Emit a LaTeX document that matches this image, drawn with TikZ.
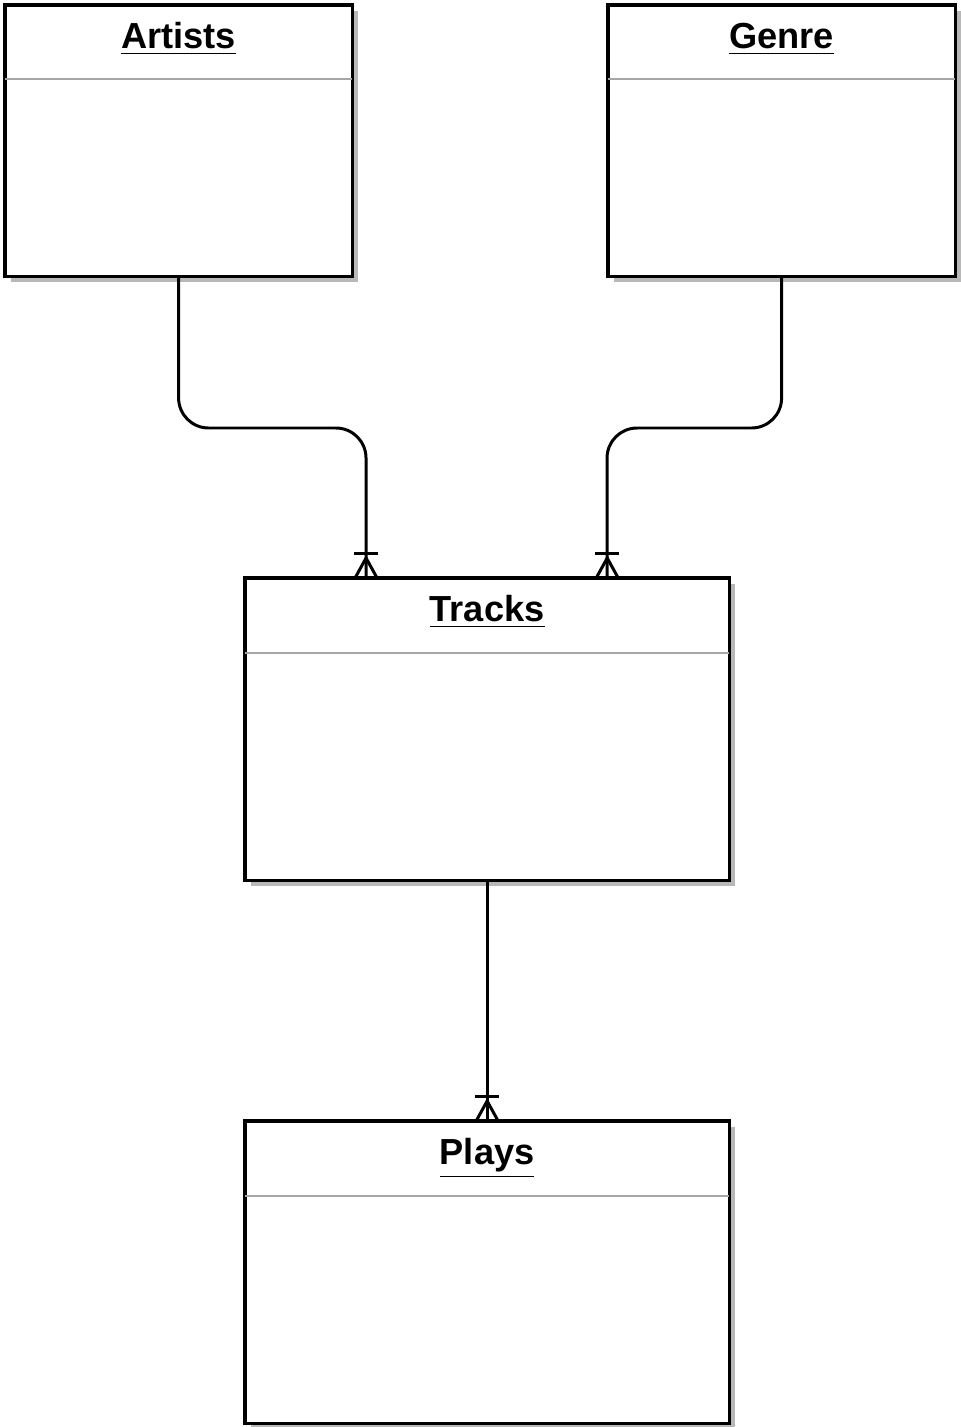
\documentclass[tikz,border=0pt]{standalone}
\usepackage{fontspec}
\setmainfont{Liberation Sans}
\usepackage{tikz}
\usetikzlibrary{positioning, shadows}

\newcommand{\crowsfoot}[1]{%
  \draw[foot] ([shift={(-12,-25)}]#1) -- ([shift={(12,-25)}]#1);
  \draw[foot] ([shift={(-11,0)}]#1) -- ([shift={(0,-20)}]#1) -- ([shift={(11,0)}]#1);}

\begin{document}
\begin{tikzpicture}[
  x=0.01cm, y=-0.01cm,
  entity/.style={rectangle, draw, fill=white, line width=0.9pt, anchor=north west,
                 inner sep=0pt, outer sep=0pt,
                 drop shadow={shadow xshift=0.06cm, shadow yshift=-0.06cm,
                              fill=black!28, opacity=1}},
  title/.style={anchor=base, font=\fontsize{10.3}{12}\selectfont\bfseries},
  sep/.style={draw=black!35, line width=0.6pt},
  rel/.style={line width=0.85pt, rounded corners=0.3cm},
  foot/.style={line width=0.85pt, line join=miter}
]
  \useasboundingbox (0,0) rectangle (960,1427);

  \node[entity, minimum width=3.47cm, minimum height=2.71cm] (artists) at (5,5) {};
  \node[entity, minimum width=3.47cm, minimum height=2.71cm] (genre) at (608,5) {};
  \node[entity, minimum width=4.84cm, minimum height=3.02cm] (tracks) at (245,578) {};
  \node[entity, minimum width=4.84cm, minimum height=3.02cm] (plays) at (245,1121) {};

  \node[title] (artists-t) at ([yshift=-0.43cm]artists.north) {\underline{Artists}};
  \node[title] (genre-t) at ([yshift=-0.43cm]genre.north) {\underline{Genre}};
  \node[title] (tracks-t) at ([yshift=-0.43cm]tracks.north) {\underline{Tracks}};
  \node[title] (plays-t) at ([yshift=-0.43cm]plays.north) {\underline{Plays}};

  \draw[sep] ([yshift=-0.74cm]artists.north west) -- ([yshift=-0.74cm]artists.north east);
  \draw[sep] ([yshift=-0.74cm]genre.north west) -- ([yshift=-0.74cm]genre.north east);
  \draw[sep] ([yshift=-0.75cm]tracks.north west) -- ([yshift=-0.75cm]tracks.north east);
  \draw[sep] ([yshift=-0.75cm]plays.north west) -- ([yshift=-0.75cm]plays.north east);

  \coordinate (a-end) at ([xshift=1.21cm]tracks.north west);
  \coordinate (g-end) at ([xshift=3.62cm]tracks.north west);
  \coordinate (a-mid) at (366,428);
  \coordinate (g-mid) at (607,428);

  \draw[rel] (artists.south) |- (a-mid) -- (a-end);
  \draw[rel] (genre.south) |- (g-mid) -- (g-end);
  \draw[rel] (tracks.south) -- (plays.north);

  \crowsfoot{a-end}
  \crowsfoot{g-end}
  \crowsfoot{plays.north}
\end{tikzpicture}
\end{document}
